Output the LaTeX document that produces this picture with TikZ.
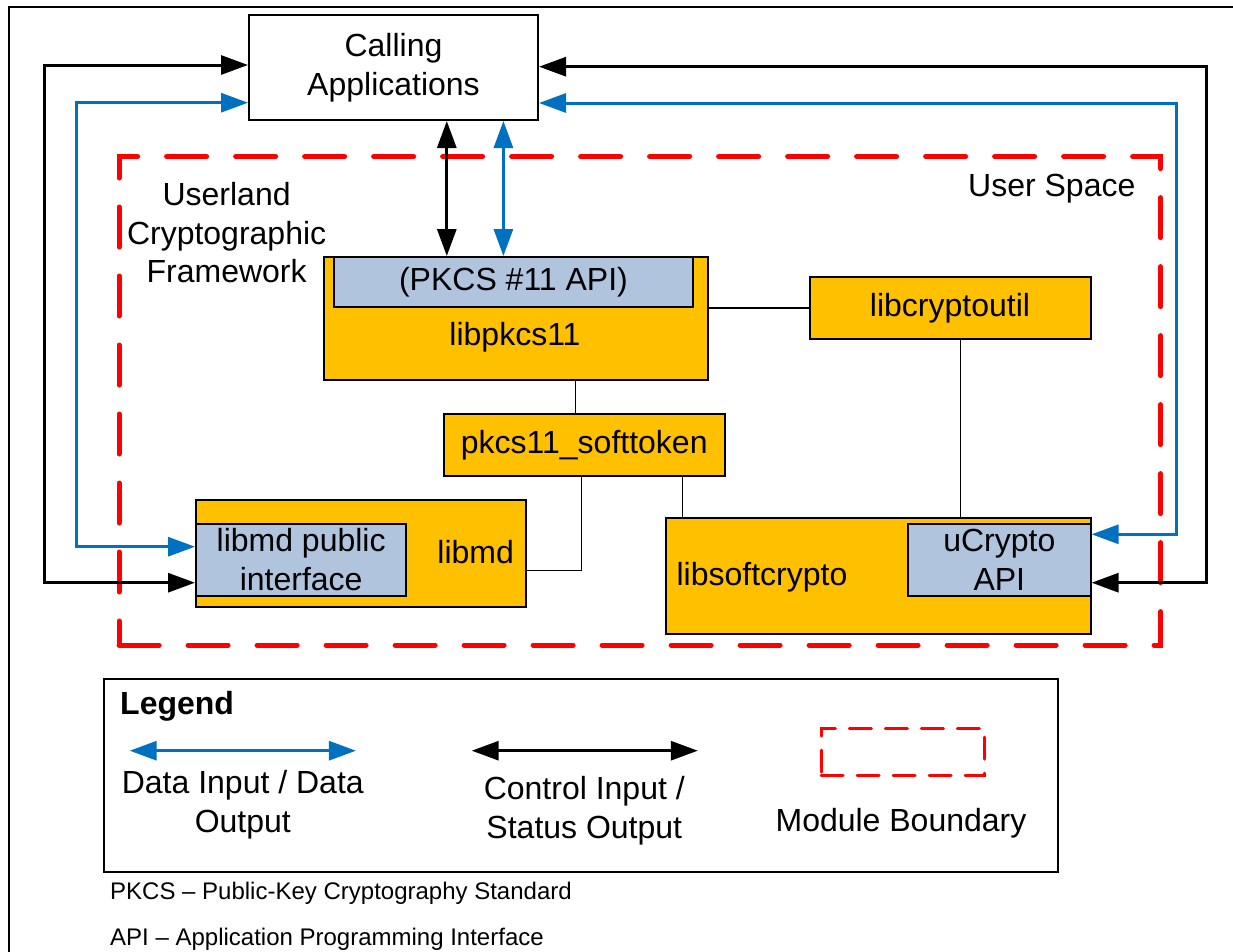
\documentclass[tikz,border=0pt]{standalone}
\usepackage{fontspec}
\setmainfont{Liberation Sans}
\usetikzlibrary{arrows.meta}
\definecolor{orng}{HTML}{FFC000}
\definecolor{steel}{HTML}{B0C4DE}
\definecolor{dblue}{HTML}{0070C0}
\definecolor{mred}{HTML}{FF0000}
\newcommand\mainsz{\fontsize{32}{38.5}\selectfont}
\newcommand\footsz{\fontsize{24}{28}\selectfont}
\begin{document}
\begin{tikzpicture}[x=1pt,y=-1pt,
  mytip/.tip={Triangle[length=27pt,width=19pt]},
  box/.style={draw=black,line width=2pt,inner sep=0pt,anchor=north west,font=\mainsz,align=center},
  lbl/.style={inner sep=0pt,font=\mainsz,align=center},
  ctrl/.style={line width=3pt,draw=black,arrows=mytip-mytip},
  data/.style={line width=3pt,draw=dblue,arrows=mytip-mytip},
  thinl/.style={line width=1.5pt,draw=black},
  bound/.style={draw=mred,line width=5pt,line cap=round,dash pattern=on 40pt off 29pt,inner sep=0pt,anchor=north west},
  fnote/.style={inner sep=0pt,font=\footsz,anchor=base west}]
\useasboundingbox (0,0) rectangle (1233,951);
\fill[white] (0,0) rectangle (1233,951);
% outer frame
\draw[line width=2pt] (8.7,960) -- (8.7,6.7) -- (1240,6.7);

% module boundary
\node[bound,minimum width=1041.4pt,minimum height=488.7pt] (mb) at (116.6,154) {};

% boxes
\node[box,fill=white,minimum width=289pt,minimum height=105pt] (calling) at (248,14) {Calling\\Applications};
\node[box,fill=orng,minimum width=384pt,minimum height=123pt] (pkcs) at (323,256) {};
\node[box,fill=steel,minimum width=359pt,minimum height=50pt] (api) at (333,256) {(PKCS \#11 API)};
\node[lbl,anchor=base] (pkcslbl) at (515,345) {libpkcs11};
\node[box,fill=orng,minimum width=281pt,minimum height=62pt] (cu) at (808.5,276) {libcryptoutil};
\node[box,fill=orng,minimum width=281.5pt,minimum height=61.4pt] (st) at (442.5,413.3) {pkcs11\_softtoken};
\node[box,fill=orng,minimum width=330pt,minimum height=107pt] (md) at (195,499) {};
\node[box,fill=steel,minimum width=210.3pt,minimum height=72pt] (mdin) at (195,522.7) {libmd public\\interface};
\node[lbl] (mdlbl) at (475.7,551.7) {libmd};
\node[box,fill=orng,minimum width=424.2pt,minimum height=116pt] (sc) at (665.4,516.7) {};
\node[box,fill=steel,minimum width=182.6pt,minimum height=72pt] (uc) at (907,522.7) {uCrypto\\API};
\node[lbl,anchor=base west] (sclbl) at (676.4,585) {libsoftcrypto};

% region labels
\node[lbl] (ucf) at (226.6,233) {Userland\\Cryptographic\\Framework};
\node[lbl,anchor=base west] (us) at (968,196.7) {User Space};

% coordinates for connectors
\coordinate (kLt) at (44.7,65);
\coordinate (kL) at (44.7,582.7);
\coordinate (bLt) at (76.3,102.7);
\coordinate (bL) at (76.3,546.7);
\coordinate (kRt) at (1206,66.7);
\coordinate (kR) at (1206,582.7);
\coordinate (bRt) at (1176,103);
\coordinate (bR) at (1176,534.3);
\coordinate (kV) at (446.8,0);
\coordinate (bV) at (503.4,0);
\coordinate (v1) at (575.3,0);
\coordinate (j1) at (581.7,570.7);
\coordinate (v3) at (682.4,0);
\coordinate (v4) at (960.7,0);

% flows
\draw[ctrl] (calling.west |- kLt) -- (kLt) -- (kL) -- (mdin.west |- kL);
\draw[data] (calling.west |- bLt) -- (bLt) -- (bL) -- (mdin.west |- bL);
\draw[ctrl] (calling.east |- kRt) -- (kRt) -- (kR) -- (uc.east |- kR);
\draw[data] (calling.east |- bRt) -- (bRt) -- (bR) -- (uc.east |- bR);
\draw[ctrl] (calling.south -| kV) -- (api.north -| kV);
\draw[data] (calling.south -| bV) -- (api.north -| bV);

% thin links
\draw[thinl] (pkcs.east |- cu.west) -- (cu.west);
\draw[thinl] (pkcs.south -| v1) -- (st.north -| v1);
\draw[thinl] (st.south -| j1) -- (j1) -- (md.east |- j1);
\draw[thinl] (st.south -| v3) -- (sc.north -| v3);
\draw[thinl] (cu.south -| v4) -- (sc.north -| v4);

% legend
\node[draw=black,line width=2pt,anchor=north west,inner sep=0pt,minimum width=954pt,minimum height=192.4pt] (leg) at (102.8,678.3) {};
\node[inner sep=0pt,anchor=base west,font=\mainsz\bfseries] (legt) at (120,714) {Legend};
\coordinate (la1) at (129.7,750.7);
\coordinate (la2) at (355.9,750.7);
\coordinate (lb1) at (471.7,750.7);
\coordinate (lb2) at (697.8,750.7);
\draw[data] (la1) -- (la2);
\draw[ctrl] (lb1) -- (lb2);
\node[draw=mred,line width=3pt,dash pattern=on 22pt off 14pt,line cap=round,anchor=north west,inner sep=0pt,minimum width=163.3pt,minimum height=47.6pt] (lmb) at (819.6,726.7) {};
\node[lbl] (ldata) at (242.8,804.6) {Data Input / Data\\Output};
\node[lbl] (lctrl) at (584.3,810.5) {Control Input /\\Status Output};
\node[lbl,anchor=base] (lmbt) at (901,831.7) {Module Boundary};

% footnotes
\node[fnote] (fn1) at (110,899.3) {PKCS – Public-Key Cryptography Standard};
\node[fnote] (fn2) at (110,945) {API – Application Programming Interface};
\end{tikzpicture}
\end{document}
